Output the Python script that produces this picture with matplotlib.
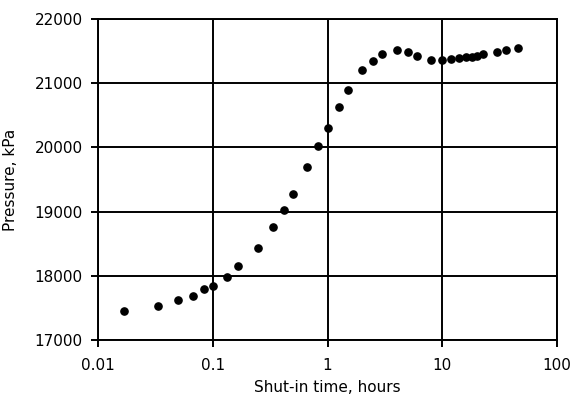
import matplotlib
matplotlib.use('Agg')
import matplotlib.pyplot as plt
from matplotlib.ticker import FixedLocator, FixedFormatter, NullLocator

plt.rcParams['font.family'] = ['DejaVu Sans']
plt.rcParams['font.size'] = 11

# shut-in time (hours) and bottomhole pressure (kPa)
time_h = [0.0167, 0.0333, 0.05, 0.0667, 0.0833, 0.1, 0.133, 0.1667, 0.25, 0.333,
          0.4167, 0.5, 0.667, 0.833, 1.0, 1.25, 1.5, 2.0, 2.5, 3.0,
          4.0, 5.0, 6.0, 8.0, 10.0, 12.0, 14.0, 16.0, 18.0, 20.0,
          22.5, 30.0, 36.0, 46.0]
pressure_kpa = [17450, 17530, 17618, 17685, 17790, 17846, 17986, 18153, 18438, 18755,
                19025, 19274, 19695, 20022, 20307, 20629, 20889, 21200, 21350, 21455,
                21522, 21480, 21424, 21366, 21356, 21372, 21388, 21403, 21413, 21428,
                21450, 21491, 21512, 21544]

x_ticks = [0.01, 0.1, 1, 10, 100]
x_tick_labels = ['0.01', '0.1', '1', '10', '100']
y_ticks = [17000, 18000, 19000, 20000, 21000, 22000]

fig = plt.figure(figsize=(5.73, 3.94), dpi=100)
ax = fig.add_axes([98 / 573, 54 / 394, 459 / 573, 321 / 394])

ax.plot(time_h, pressure_kpa, 'o', color='black', markersize=5.2, zorder=3)

ax.set_xscale('log')
ax.set_xlim(0.01, 100)
ax.set_ylim(17000, 22000)
ax.xaxis.set_major_locator(FixedLocator(x_ticks))
ax.xaxis.set_major_formatter(FixedFormatter(x_tick_labels))
ax.xaxis.set_minor_locator(NullLocator())
ax.set_yticks(y_ticks)

ax.grid(True, which='major', color='black', linewidth=1.4)
for s in ax.spines.values():
    s.set_linewidth(1.4)
ax.tick_params(axis='both', which='major', length=5, width=1.4, color='black',
               labelsize=11)
ax.tick_params(axis='x', pad=8)
ax.tick_params(axis='y', pad=6)

ax.set_xlabel('Shut-in time, hours', labelpad=5)
ax.set_ylabel('Pressure, kPa', labelpad=12)

fig.savefig('out.png', dpi=100)
